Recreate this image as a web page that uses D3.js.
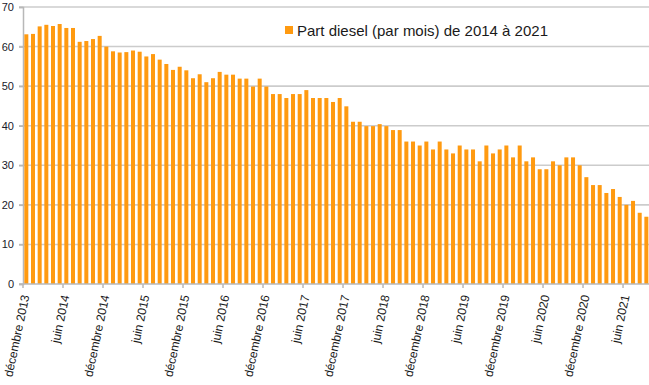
<!DOCTYPE html>
<html>
<head>
<meta charset="utf-8">
<script src="https://cdn.jsdelivr.net/npm/d3@7"></script>
<style>
  html, body { margin: 0; padding: 0; background: #fff; }
  svg { display: block; font-family: "Liberation Sans", Arial, sans-serif; }
</style>
</head>
<body>
<svg id="chart" width="649" height="385"></svg>
<script>
// ---- data ----
const monthNames = ["janvier","février","mars","avril","mai","juin","juillet","août","septembre","octobre","novembre","décembre"];
// months from décembre 2013 to septembre 2021
const categories = [];
for (let yr = 2013; yr <= 2021; yr++) {
  for (let m = 0; m < 12; m++) {
    if ((yr === 2013 && m < 11) || (yr === 2021 && m > 8)) continue;
    categories.push(monthNames[m] + " " + yr);
  }
}
const dieselShare = [
  63.1, 63.2, 65.1, 65.5, 65.2, 65.7, 64.7, 64.7, 61.2, 61.4, 61.9, 62.7,
  60.0, 58.8, 58.5, 58.6, 59.0, 58.7, 57.5, 58.1, 56.7, 55.6, 54.1, 54.9,
  54.0, 52.0, 53.0, 51.0, 52.0, 53.6, 52.9, 52.9, 51.9, 51.9, 49.9, 51.9,
  49.9, 48.0, 48.0, 47.0, 48.0, 48.0, 49.0, 47.0, 47.0, 47.0, 46.0, 47.0,
  44.9, 41.0, 41.0, 39.9, 39.9, 40.4, 39.9, 38.9, 38.9, 36.0, 36.0, 35.0,
  36.0, 34.0, 36.0, 34.0, 33.0, 35.0, 34.0, 34.0, 31.0, 35.0, 33.0, 34.0,
  35.0, 32.0, 35.0, 31.0, 32.0, 29.0, 29.0, 31.0, 30.0, 32.0, 32.0, 30.0,
  27.0, 25.0, 25.0, 23.0, 24.0, 22.0, 20.0, 21.0, 18.0, 17.0
];
const xTickLabels = [
  "décembre 2013","juin 2014","décembre 2014","juin 2015","décembre 2015","juin 2016",
  "décembre 2016","juin 2017","décembre 2017","juin 2018","décembre 2018","juin 2019",
  "décembre 2019","juin 2020","décembre 2020","juin 2021"
];
const yTicks = [0, 10, 20, 30, 40, 50, 60, 70];
const legendLabel = "Part diesel (par mois) de 2014 à 2021";

// ---- layout ----
const svg = d3.select("#chart");
const plotLeft = 23, plotRight = 23 + 626.7, plotTop = 7, plotBottom = 284;
const barColor = "#ff9a10";
const gridColor = "#cccccc";

const x = d3.scaleBand().domain(categories).range([plotLeft, plotRight])
  .paddingInner(0.4).paddingOuter(0.2);
const y = d3.scaleLinear().domain([0, 70]).range([plotBottom, plotTop]);
const boundary = d => x(d) - x.step() * x.paddingInner() / 2;

// gridlines
svg.append("g").selectAll("line").data(yTicks.filter(t => t > 0)).join("line")
  .attr("x1", 19).attr("x2", 649)
  .attr("y1", d => y(d)).attr("y2", d => y(d))
  .attr("stroke", gridColor).attr("stroke-width", 1.6);

// y axis
const yAxis = svg.append("g").attr("transform", `translate(${plotLeft},0)`)
  .call(d3.axisLeft(y).tickValues(yTicks).tickSize(4).tickPadding(5).tickFormat(d3.format("d")));
yAxis.select(".domain").attr("stroke", "#b8b8b8").attr("stroke-width", 1.5);
yAxis.selectAll(".tick line").attr("stroke", "#b8b8b8").attr("stroke-width", 1.5);
yAxis.selectAll("text").attr("fill", "#1a1a2a").style("font-size", "11px")
  .style("font-family", "'Liberation Sans', Arial, sans-serif");

// bars
svg.append("g").selectAll("rect").data(dieselShare).join("rect")
  .attr("x", (d, i) => x(categories[i]))
  .attr("width", x.bandwidth())
  .attr("y", d => y(d))
  .attr("height", d => y(0) - y(d))
  .attr("fill", barColor);

// x axis baseline
svg.append("line").attr("x1", 19).attr("x2", 649)
  .attr("y1", plotBottom).attr("y2", plotBottom)
  .attr("stroke", "#b8b8b8").attr("stroke-width", 1.5);

// x ticks & labels
const xt = svg.append("g").selectAll("g").data(xTickLabels).join("g")
  .attr("transform", d => `translate(${boundary(d)},0)`);
xt.append("line").attr("y1", plotBottom).attr("y2", plotBottom + 4)
  .attr("stroke", "#b8b8b8").attr("stroke-width", 1.5);
xt.append("text")
  .attr("transform", `translate(6.5,${plotBottom + 12}) rotate(-78)`)
  .attr("text-anchor", "end")
  .attr("fill", "#1a1a1a")
  .style("font-size", "12px")
  .text(d => d);

// legend
const lg = svg.append("g").attr("transform", "translate(285,26)");
lg.append("rect").attr("width", 8).attr("height", 8).attr("fill", barColor);
lg.append("text").attr("x", 12).attr("y", 9.5)
  .attr("fill", "#1a1a1a").style("font-size", "15px").text(legendLabel);
</script>
</body>
</html>
